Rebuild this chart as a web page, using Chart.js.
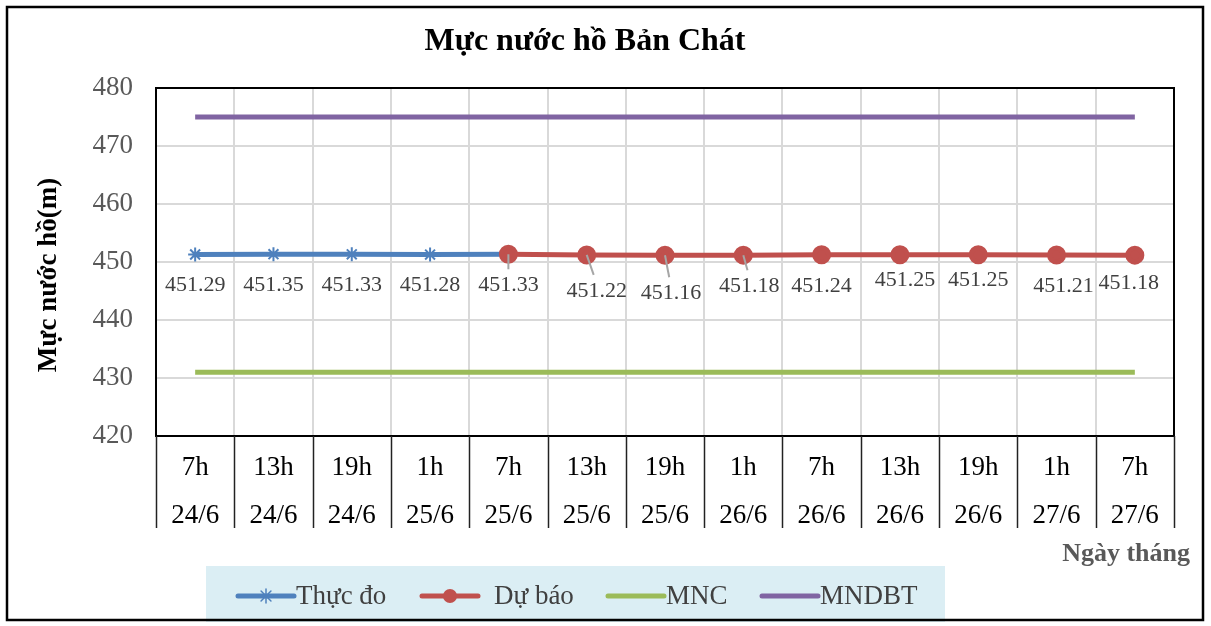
<!DOCTYPE html>
<html>
<head>
<meta charset="utf-8">
<script src="https://cdn.jsdelivr.net/npm/chart.js@4"></script>
<style>
  body { margin: 0; background: #fff; }
  #wrap { width: 1211px; height: 626px; }
</style>
</head>
<body>
<div id="wrap"><canvas id="chart"></canvas></div>
<script>
const hours = ['7h', '13h', '19h', '1h', '7h', '13h', '19h', '1h', '7h', '13h', '19h', '1h', '7h'];
const days = ['24/6', '24/6', '24/6', '25/6', '25/6', '25/6', '25/6', '26/6', '26/6', '26/6', '26/6', '27/6', '27/6'];
const thucDo = [451.29, 451.35, 451.33, 451.28, 451.33, null, null, null, null, null, null, null, null];
const duBao = [null, null, null, null, 451.33, 451.22, 451.16, 451.18, 451.24, 451.25, 451.25, 451.21, 451.18];
const mnc = [431, 431, 431, 431, 431, 431, 431, 431, 431, 431, 431, 431, 431];
const mndbt = [475, 475, 475, 475, 475, 475, 475, 475, 475, 475, 475, 475, 475];
const yTicks = [420, 430, 440, 450, 460, 470, 480];

// label nudges (px) and which labels get a leader line
const labelDx = [0, 0, 0, 0, 0, 10, 6, 6, 0, 5, 0, 7, -6];
const labelDy = [0, 0, 0, 0, 0, 5, 7, 0, 0, -6, -6, 0, -3];
const leader = [false, false, false, false, true, true, true, true, false, false, false, false, false];

const serif = '"Liberation Serif", "DejaVu Serif", serif';
const labels = hours.map((h, i) => [h, days[i]]);

const extras = {
  id: 'extras',
  beforeDraw(chart) {
    const ctx = chart.ctx;
    ctx.save();
    ctx.fillStyle = '#fff';
    ctx.fillRect(0, 0, chart.width, chart.height);
    ctx.restore();
  },
  afterDraw(chart) {
    const ctx = chart.ctx;
    const a = chart.chartArea;
    const x = chart.scales.x;
    ctx.save();

    // plot border
    ctx.strokeStyle = '#000';
    ctx.lineWidth = 2;
    ctx.strokeRect(a.left, a.top, a.right - a.left, a.bottom - a.top);

    // category separators below the plot
    const step = x.getPixelForValue(1) - x.getPixelForValue(0);
    ctx.lineWidth = 1.5;
    ctx.strokeStyle = '#222';
    for (let i = 0; i <= labels.length; i++) {
      const px = Math.round(x.getPixelForValue(i) - step / 2) + 0.5;
      ctx.beginPath();
      ctx.moveTo(px, a.bottom);
      ctx.lineTo(px, a.bottom + 92);
      ctx.stroke();
    }

    // data labels
    ctx.font = '22px ' + serif;
    ctx.textAlign = 'center';
    ctx.textBaseline = 'middle';
    const mTd = chart.getDatasetMeta(0);
    const mDb = chart.getDatasetMeta(1);
    for (let i = 0; i < labels.length; i++) {
      let v, pt;
      if (duBao[i] != null) { v = duBao[i]; pt = mDb.data[i]; }
      else if (thucDo[i] != null) { v = thucDo[i]; pt = mTd.data[i]; }
      else continue;
      const lx = pt.x + labelDx[i];
      const ly = pt.y + 31 + labelDy[i];
      if (leader[i]) {
        ctx.strokeStyle = '#a6a6a6';
        ctx.lineWidth = 2;
        ctx.beginPath();
        ctx.moveTo(pt.x, pt.y);
        ctx.lineTo(pt.x + (lx - pt.x) * 0.7, ly - 16);
        ctx.stroke();
      }
      ctx.fillStyle = '#404040';
      ctx.fillText(v.toFixed(2), lx, ly);
    }

    // title
    ctx.fillStyle = '#000';
    ctx.font = 'bold 32px ' + serif;
    ctx.fillText('Mực nước hồ Bản Chát', 585, 42);

    // axis titles
    ctx.fillStyle = '#595959';
    ctx.font = 'bold 26px ' + serif;
    ctx.textAlign = 'right';
    ctx.fillText('Ngày tháng', 1190, 554);
    ctx.save();
    ctx.fillStyle = '#000';
    ctx.font = 'bold 27px ' + serif;
    ctx.translate(49, 275);
    ctx.rotate(-Math.PI / 2);
    ctx.textAlign = 'center';
    ctx.fillText('Mực nước hồ(m)', 0, 0);
    ctx.restore();

    // legend
    ctx.fillStyle = '#dbeef4';
    ctx.fillRect(206, 566, 739, 56);
    const items = [
      { text: 'Thực đo', color: '#4f81bd', x: 238, star: true },
      { text: 'Dự báo', color: '#c0504d', x: 422, dot: true, gap: 14 },
      { text: 'MNC', color: '#9bbb59', x: 608 },
      { text: 'MNDBT', color: '#8064a2', x: 762 }
    ];
    ctx.font = '27px ' + serif;
    ctx.textAlign = 'left';
    items.forEach(it => {
      const y = 596;
      ctx.strokeStyle = it.color;
      ctx.lineWidth = 5;
      ctx.lineCap = 'round';
      ctx.beginPath();
      ctx.moveTo(it.x, y);
      ctx.lineTo(it.x + 56, y);
      ctx.stroke();
      if (it.dot) {
        ctx.fillStyle = it.color;
        ctx.beginPath();
        ctx.arc(it.x + 28, y, 7, 0, Math.PI * 2);
        ctx.fill();
      }
      if (it.star) {
        ctx.lineWidth = 1.5;
        for (let k = 0; k < 4; k++) {
          const ang = k * Math.PI / 4;
          ctx.beginPath();
          ctx.moveTo(it.x + 28 - 7 * Math.cos(ang), y - 7 * Math.sin(ang));
          ctx.lineTo(it.x + 28 + 7 * Math.cos(ang), y + 7 * Math.sin(ang));
          ctx.stroke();
        }
      }
      ctx.fillStyle = '#404040';
      ctx.fillText(it.text, it.x + 58 + (it.gap || 0), y + 1);
    });

    // outer frame
    ctx.strokeStyle = '#000';
    ctx.lineWidth = 2.5;
    ctx.strokeRect(7, 7, 1196, 613);
    ctx.restore();
  }
};

new Chart(document.getElementById('chart'), {
  type: 'line',
  data: {
    labels: labels,
    datasets: [
      {
        label: 'Thực đo',
        data: thucDo,
        borderColor: '#4f81bd',
        backgroundColor: '#4f81bd',
        borderWidth: 5,
        pointStyle: 'star',
        pointRadius: 7,
        pointBorderWidth: 2,
        order: 2
      },
      {
        label: 'Dự báo',
        data: duBao,
        borderColor: '#c0504d',
        backgroundColor: '#c0504d',
        borderWidth: 5,
        pointStyle: 'circle',
        pointRadius: 7,
        order: 1
      },
      {
        label: 'MNC',
        data: mnc,
        borderColor: '#9bbb59',
        borderWidth: 5,
        pointRadius: 0,
        order: 3
      },
      {
        label: 'MNDBT',
        data: mndbt,
        borderColor: '#8064a2',
        borderWidth: 5,
        pointRadius: 0,
        order: 4
      }
    ]
  },
  options: {
    responsive: true,
    maintainAspectRatio: false,
    animation: false,
    layout: { padding: { top: 88, right: 37, left: 0, bottom: 0 } },
    plugins: {
      legend: { display: false },
      title: { display: false },
      tooltip: { enabled: false }
    },
    scales: {
      x: {
        offset: true,
        grid: { color: '#d9d9d9', lineWidth: 2, offset: true, drawTicks: false },
        border: { display: false },
        ticks: {
          color: '#000',
          font: { family: serif, size: 27, lineHeight: 1.78 },
          padding: 8,
          maxRotation: 0,
          autoSkip: false
        },
        afterFit: s => { s.height = 190; }
      },
      y: {
        min: 420,
        max: 480,
        afterBuildTicks: s => { s.ticks = yTicks.map(v => ({ value: v })); },
        grid: { color: '#d9d9d9', lineWidth: 2, drawTicks: false },
        border: { display: false },
        ticks: {
          color: '#595959',
          font: { family: serif, size: 27 },
          padding: 23
        },
        afterFit: s => { s.width = 156; }
      }
    }
  },
  plugins: [extras]
});
</script>
</body>
</html>
